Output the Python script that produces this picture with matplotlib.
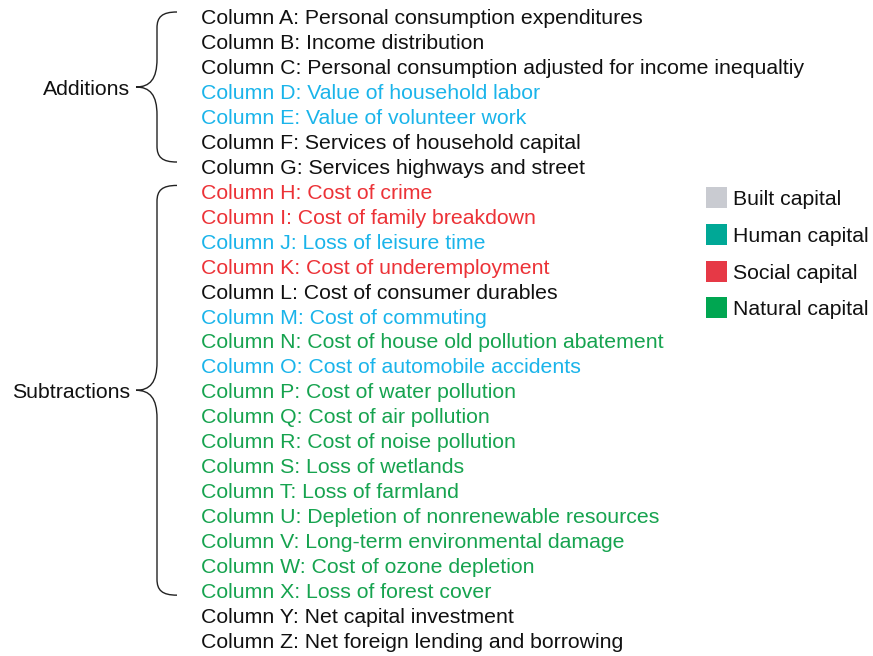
import matplotlib
matplotlib.use("Agg")
import matplotlib.pyplot as plt
from matplotlib.path import Path
from matplotlib.patches import PathPatch, Rectangle

plt.rcParams['font.family'] = ['Liberation Sans', 'DejaVu Sans']

letters = list("ABCDEFGHIJKLMNOPQRSTUVWXYZ")
descriptions = [
    "Personal consumption expenditures",
    "Income distribution",
    "Personal consumption adjusted for income inequaltiy",
    "Value of household labor",
    "Value of volunteer work",
    "Services of household capital",
    "Services highways and street",
    "Cost of crime",
    "Cost of family breakdown",
    "Loss of leisure time",
    "Cost of underemployment",
    "Cost of consumer durables",
    "Cost of commuting",
    "Cost of house old pollution abatement",
    "Cost of automobile accidents",
    "Cost of water pollution",
    "Cost of air pollution",
    "Cost of noise pollution",
    "Loss of wetlands",
    "Loss of farmland",
    "Depletion of nonrenewable resources",
    "Long-term environmental damage",
    "Cost of ozone depletion",
    "Loss of forest cover",
    "Net capital investment",
    "Net foreign lending and borrowing",
]
text_groups = [
    "none", "none", "none", "human", "human", "none", "none",
    "social", "social", "human", "social", "none", "human", "natural", "human",
    "natural", "natural", "natural", "natural", "natural", "natural", "natural",
    "natural", "natural", "none", "none",
]
text_colors = {"none": "#111111", "human": "#1AB4EA", "social": "#EC3237", "natural": "#16A34F"}

legend_labels = ["Built capital", "Human capital", "Social capital", "Natural capital"]
legend_colors = ["#C9CBD1", "#00A896", "#E63946", "#00A651"]

brace_groups = ["Additions", "Subtractions"]
brace_ranges = [(0, 6), (7, 23)]  # row index ranges (inclusive)

W, H = 873, 656
fig = plt.figure(figsize=(W / 100, H / 100), dpi=100)
ax = fig.add_axes([0, 0, 1, 1])
ax.set_xlim(0, W)
ax.set_ylim(H, 0)
ax.axis("off")

y0, dy = 17.0, 24.92
fs = 15.3
toff = 2.0  # visual offset of text center
for i, (l, d, g) in enumerate(zip(letters, descriptions, text_groups)):
    ax.text(201, y0 + i * dy + toff, f"Column {l}: {d}", color=text_colors[g],
            fontsize=fs, va="center", ha="left")


def brace(ytop, ybot, xend=177, xv=157, xtip=136):
    ym = (ytop + ybot) / 2
    c = 16
    t = 28
    verts = [
        (xend, ytop),
        (xv + 5, ytop), (xv, ytop + 5), (xv, ytop + c),
        (xv, ym - t),
        (xv, ym - 8), (150, ym), (xtip, ym),
        (150, ym), (xv, ym + 8), (xv, ym + t),
        (xv, ybot - c),
        (xv, ybot - 5), (xv + 5, ybot), (xend, ybot),
    ]
    codes = [Path.MOVETO,
             Path.CURVE4, Path.CURVE4, Path.CURVE4,
             Path.LINETO,
             Path.CURVE4, Path.CURVE4, Path.CURVE4,
             Path.CURVE4, Path.CURVE4, Path.CURVE4,
             Path.LINETO,
             Path.CURVE4, Path.CURVE4, Path.CURVE4]
    ax.add_patch(PathPatch(Path(verts, codes), fill=False, lw=1.0,
                           edgecolor="#222222", capstyle="butt"))
    return ym


brace_pads = [(-5, -4.5), (-6, 5)]
for label, (a, b), (pt, pb) in zip(brace_groups, brace_ranges, brace_pads):
    ytop = y0 + a * dy + pt
    ybot = y0 + b * dy + pb
    ym = brace(ytop, ybot)
    ax.text(130, ym + toff, label, fontsize=fs, va="center", ha="right", color="#111111")

ly0, ldy = 197.5, 36.8
for i, (lab, col) in enumerate(zip(legend_labels, legend_colors)):
    yc = ly0 + i * ldy
    ax.add_patch(Rectangle((706, yc - 10.5), 21, 21, facecolor=col, edgecolor="none"))
    ax.text(733, yc + toff, lab, fontsize=fs, va="center", ha="left", color="#111111")

fig.savefig("out.png", dpi=100)
